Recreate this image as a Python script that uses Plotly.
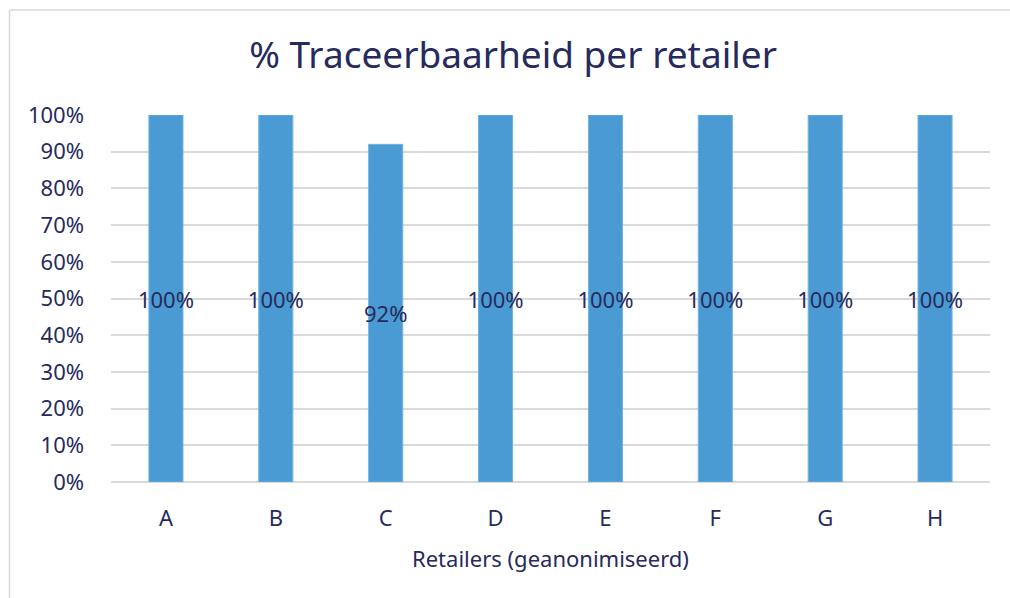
import plotly.graph_objects as go

categories = ["A", "B", "C", "D", "E", "F", "G", "H"]
values = [1.00, 1.00, 0.92, 1.00, 1.00, 1.00, 1.00, 1.00]
labels = ["100%", "100%", "92%", "100%", "100%", "100%", "100%", "100%"]

NAVY = "#272A5C"
FONT = "Noto Sans"

fig = go.Figure(go.Bar(
    x=categories, y=values, text=labels,
    textposition="inside", insidetextanchor="middle", textangle=0,
    constraintext="none",
    textfont=dict(family=FONT, size=22, color=NAVY),
    marker=dict(color="#4A9AD3", line=dict(color="#6FB3E3", width=1)),
    width=0.31, cliponaxis=False,
))

L, R, T, B = 111, 20, 115, 116
W, H = 1010, 598
pw, ph = W - L - R, H - T - B

def px(x):
    return (x - L) / pw

def py(y):
    return (H - B - y) / ph

fig.update_layout(
    width=W, height=H,
    margin=dict(l=L, r=R, t=T, b=B),
    plot_bgcolor="white", paper_bgcolor="white",
    showlegend=False,
    title=dict(text="% Traceerbaarheid per retailer", x=0.508, xanchor="center",
               y=1 - 55 / H, yanchor="middle",
               font=dict(family=FONT, size=37, color=NAVY)),
    font=dict(family=FONT, color=NAVY),
    xaxis=dict(
        title=dict(text="Retailers (geanonimiseerd)", font=dict(family=FONT, size=22, color=NAVY), standoff=20),
        tickfont=dict(family=FONT, size=22, color=NAVY),
        showgrid=False, showline=False, ticks="", ticklabelstandoff=21,
    ),
    yaxis=dict(
        range=[0, 1.0], dtick=0.1, tickformat=".0%",
        tickfont=dict(family=FONT, size=22, color=NAVY),
        gridcolor="#D9D9D9", gridwidth=1.5,
        zeroline=True, zerolinecolor="#D9D9D9", zerolinewidth=1.5,
        showline=False, ticks="", ticklabelstandoff=26,
    ),
    shapes=[
        dict(type="line", xref="paper", yref="paper", x0=px(9.5), x1=px(9.5), y0=py(10), y1=py(598),
             line=dict(color="#D9D9D9", width=1.5), layer="below"),
        dict(type="line", xref="paper", yref="paper", x0=px(9.5), x1=px(1010), y0=py(10), y1=py(10),
             line=dict(color="#D9D9D9", width=1.5), layer="below"),
    ],
)

fig.write_html("out.html", config={"displayModeBar": False},
               post_script="document.body.style.margin='0';document.body.style.overflow='hidden';")
